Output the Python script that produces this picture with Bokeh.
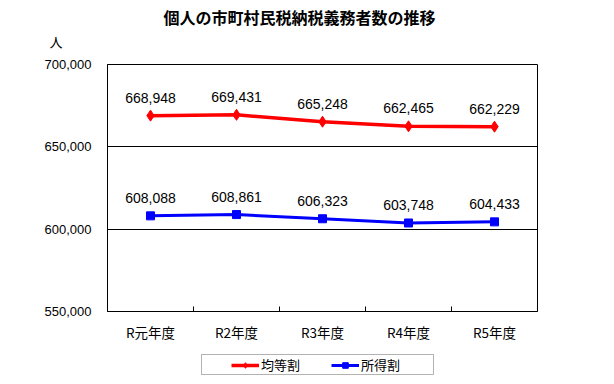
from bokeh.plotting import figure
from bokeh.models import (ColumnDataSource, FixedTicker, NumeralTickFormatter, Range1d,
                          Legend, LegendItem, Title, BoxAnnotation)
from bokeh.layouts import column
from bokeh.core.properties import value
from bokeh.embed import file_html
from bokeh.resources import INLINE

title_text = "個人の市町村民税納税義務者数の推移"
unit_text = "人"
categories = ["R元年度", "R2年度", "R3年度", "R4年度", "R5年度"]
kintou = [668948, 669431, 665248, 662465, 662229]
shotoku = [608088, 608861, 606323, 603748, 604433]
y_ticks = [550000, 600000, 650000, 700000]
series_names = ["均等割", "所得割"]

JP = "Noto Sans CJK JP"
NUM = "Liberation Sans"
RED = "#FF0000"
BLUE = "#0000FF"

xs = [i + 0.5 for i in range(len(categories))]

# ---------------- main chart ----------------
p = figure(width=614, height=344, output_backend="svg", toolbar_location=None, title=None,
           x_range=Range1d(0, len(categories)), y_range=Range1d(y_ticks[0], y_ticks[-1]),
           min_border_left=107, min_border_right=77, min_border_top=64, min_border_bottom=32)
p.background_fill_color = "white"
p.border_fill_color = "white"
p.outline_line_color = "black"
p.outline_line_width = 1

p.xaxis.ticker = FixedTicker(ticks=xs, minor_ticks=[1, 2, 3, 4])
p.xaxis.major_label_overrides = {x: c for x, c in zip(xs, categories)}
p.xaxis.major_tick_in = 0
p.xaxis.major_tick_out = 0
p.xaxis.minor_tick_in = 5
p.xaxis.minor_tick_out = 0
p.xaxis.minor_tick_line_color = "black"
p.xaxis.axis_line_color = "black"
p.xaxis.major_label_text_font = JP
p.xaxis.major_label_text_font_size = "13.5px"
p.xaxis.major_label_text_color = "black"
p.xaxis.major_label_standoff = 10

p.yaxis.ticker = FixedTicker(ticks=y_ticks)
p.yaxis.formatter = NumeralTickFormatter(format="0,0")
p.yaxis.major_tick_in = 0
p.yaxis.major_tick_out = 0
p.yaxis.minor_tick_line_color = None
p.yaxis.axis_line_color = "black"
p.yaxis.major_label_text_font = NUM
p.yaxis.major_label_text_font_size = "13px"
p.yaxis.major_label_text_color = "black"
p.yaxis.major_label_standoff = 16

p.xgrid.grid_line_color = None
p.ygrid.ticker = FixedTicker(ticks=y_ticks)
p.ygrid.grid_line_color = "black"
p.ygrid.grid_line_width = 1

src_r = ColumnDataSource(dict(x=xs, y=kintou, t=[f"{v:,}" for v in kintou]))
src_b = ColumnDataSource(dict(x=xs, y=shotoku, t=[f"{v:,}" for v in shotoku]))

p.line("x", "y", source=src_r, line_color=RED, line_width=3.5)
p.scatter("x", "y", source=src_r, marker="diamond", size=11, fill_color=RED, line_color=RED)
p.line("x", "y", source=src_b, line_color=BLUE, line_width=3)
p.scatter("x", "y", source=src_b, marker="square", size=8, fill_color=BLUE, line_color=BLUE)

for src in (src_r, src_b):
    p.text("x", "y", text="t", source=src, text_align="center", text_baseline="middle",
           y_offset=-18, text_font=value(NUM), text_font_size="14px", text_color="black")

# titles (first added sits closest to the frame)
p.add_layout(Title(text=unit_text, align="left", offset=-58, standoff=27,
                   text_font=JP, text_font_size="13px", text_font_style="normal",
                   text_color="black"), "above")
p.add_layout(Title(text=title_text, align="left", offset=56, standoff=-25,
                   text_font=JP, text_font_size="16px", text_font_style="bold",
                   text_color="black"), "above")

# ---------------- legend strip (frame aligned with the chart's frame) ----------------
q = figure(width=614, height=40, output_backend="svg", toolbar_location=None, title=None,
           x_range=Range1d(107, 537), y_range=Range1d(0, 40),
           x_axis_location=None, y_axis_location=None,
           min_border_left=107, min_border_right=77, min_border_top=0, min_border_bottom=0)
q.outline_line_color = None
q.xgrid.grid_line_color = None
q.ygrid.grid_line_color = None
q.background_fill_color = "white"
q.border_fill_color = "white"

# legend glyph renderers reuse the series data (falls outside this strip's ranges)
qlr = q.line("x", "y", source=src_r, line_color=RED, line_width=3.5)
qsr = q.scatter("x", "y", source=src_r, marker="diamond", size=11, fill_color=RED, line_color=RED)
qlb = q.line("x", "y", source=src_b, line_color=BLUE, line_width=3)
qsb = q.scatter("x", "y", source=src_b, marker="square", size=8, fill_color=BLUE, line_color=BLUE)

q.add_layout(BoxAnnotation(left=201, right=433, bottom=10, top=30, fill_alpha=0,
                           line_color="black", line_width=1))

legend = Legend(items=[LegendItem(label=series_names[0], renderers=[qlr, qsr]),
                       LegendItem(label=series_names[1], renderers=[qlb, qsb])],
                orientation="horizontal", location=(124, 10),
                padding=3, spacing=4, margin=0,
                glyph_width=28, glyph_height=14, label_standoff=2, label_width=66,
                label_text_font=JP, label_text_font_size="13px", label_text_color="black",
                border_line_color=None, background_fill_alpha=0)
q.add_layout(legend, "center")

open("out.html", "w").write(file_html(column(p, q, spacing=0), INLINE))
